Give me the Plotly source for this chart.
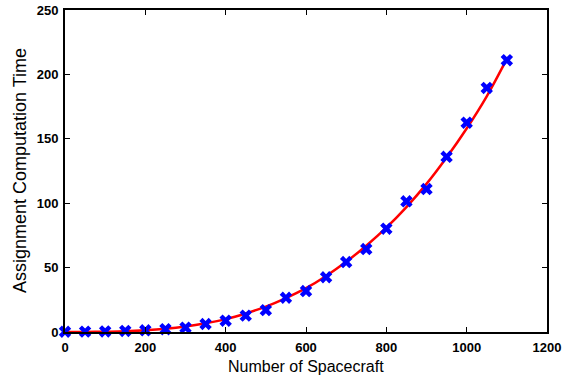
import plotly.graph_objects as go

# Measured data (blue markers)
spacecraft = [0, 50, 100, 150, 200, 250, 300, 350, 400, 450, 500, 550,
              600, 650, 700, 750, 800, 850, 900, 950, 1000, 1050, 1100]
comp_time = [0.2, 0.3, 0.4, 0.8, 1.3, 2.2, 3.4, 6.2, 8.8, 12.7, 17.0, 26.6,
             31.8, 42.5, 54.3, 64.4, 80.2, 101.5, 111.0, 136.0, 162.5, 189.5, 211.0]

# Fitted curve (red line)
fit_x = [0, 50, 100, 150, 200, 250, 300, 350, 400, 450, 500, 550,
         600, 650, 700, 750, 800, 850, 900, 950, 1000, 1050, 1100]
fit_y = [0.0, 0.05, 0.2, 0.5, 1.3, 2.5, 4.3, 6.8, 10.0, 14.4, 19.7, 26.3,
         34.0, 43.5, 54.5, 67.0, 81.0, 97.0, 115.0, 135.5, 158.0, 183.0, 212.0]

x_ticks = [0, 200, 400, 600, 800, 1000, 1200]
y_ticks = [0, 50, 100, 150, 200, 250]

x_title = "Number of Spacecraft"
y_title = "Assignment Computation Time"

fig = go.Figure()
fig.add_trace(go.Scatter(
    x=fit_x, y=fit_y, mode="lines",
    line=dict(color="red", width=2.5, shape="spline"),
    showlegend=False, cliponaxis=False))
fig.add_trace(go.Scatter(
    x=spacecraft, y=comp_time, mode="markers",
    marker=dict(symbol="x", size=11, color="blue"),
    showlegend=False, cliponaxis=False))

FONT = "Liberation Sans, Arial, Helvetica, sans-serif"
tickfont = dict(family=FONT, size=13, color="black", weight="bold")

axis_common = dict(ticks="inside", ticklen=5, tickwidth=1, tickcolor="black",
                   showline=True, linecolor="black", linewidth=2, mirror="ticks",
                   showgrid=False, zeroline=False, tickfont=tickfont, automargin=False)

fig.update_layout(
    width=562, height=379,
    margin=dict(l=65, r=15, t=10, b=47),
    plot_bgcolor="white", paper_bgcolor="white",
    xaxis=dict(range=[0, 1200], tickvals=x_ticks, ticktext=[str(v) for v in x_ticks],
               ticklabelstandoff=2, **axis_common),
    yaxis=dict(range=[0, 250], tickvals=y_ticks, ticktext=[str(v) for v in y_ticks],
               ticklabelstandoff=2, **axis_common),
    annotations=[
        dict(text=x_title, xref="paper", yref="paper", x=0.5, y=0,
             xanchor="center", yanchor="middle", yshift=-34, showarrow=False,
             font=dict(family=FONT, size=16, color="black")),
        dict(text=y_title, xref="paper", yref="paper", x=0, y=0.5,
             xanchor="center", yanchor="middle", xshift=-45, textangle=-90,
             showarrow=False, font=dict(family=FONT, size=18, color="black")),
    ],
)

fig.write_html("out.html",
               config={"displayModeBar": False},
               post_script="document.body.style.margin='0';document.body.style.overflow='hidden';")
